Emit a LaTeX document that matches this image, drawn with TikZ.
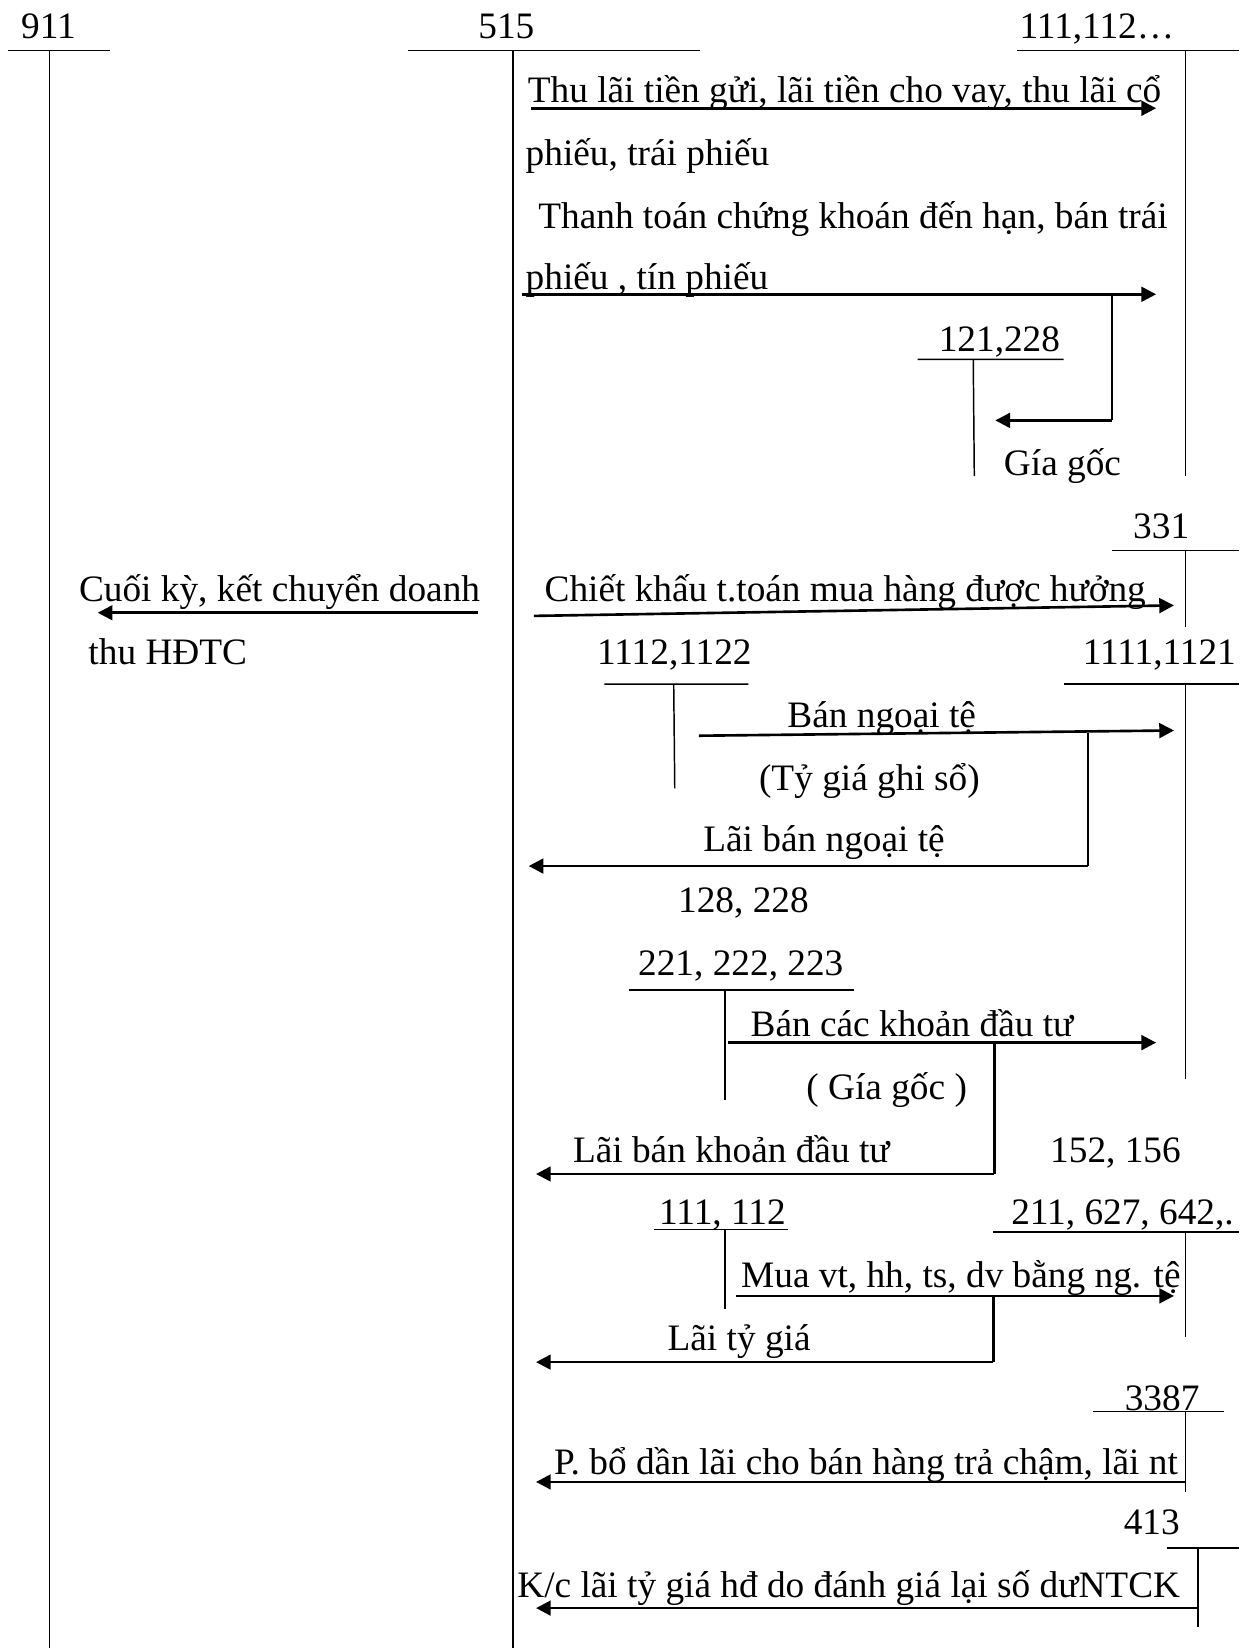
\documentclass[tikz,border=0pt]{standalone}
\usepackage{fontspec}
\setmainfont{Liberation Serif}
\usetikzlibrary{arrows.meta}
\begin{document}
\begin{tikzpicture}[x=1pt,y=-1pt,
  acct/.style={line width=1.4pt},
  flow/.style={line width=2.5pt,-{Triangle[length=14pt,width=14pt]}},
  seg/.style={line width=2.5pt},
  lbl/.style={anchor=base west,inner sep=0pt,font=\fontsize{35.5}{42}\selectfont}]
\useasboundingbox[fill=white] (0,0) rectangle (1179,1568);
% T accounts
\node[lbl] (t911) at (20,37) {911};
\draw[acct] (8,48) -- (105,48) (47,48) -- (47,1568);
\node[lbl] (t515) at (455,37) {515};
\draw[acct] (388,48) -- (666,48) (488,48) -- (488,1568);
\node[lbl] (t111) at (970,37) {111,112…};
\draw[acct] (968,48) -- (1179,48) (1128,48) -- (1128,453);
\node[lbl] (t121) at (893,334) {121,228};
\draw[acct] (873,342) -- (1012,342) (926,342) -- (927,453);
\node[lbl] (t331) at (1078,512) {331};
\draw[acct] (1058,524) -- (1179,524) (1128,524) -- (1128,597);
\node[lbl] (t1112) at (568,632) {1112,1122};
\draw[acct] (575,651) -- (712,651) (641,651) -- (642,750);
\node[lbl] (t1111) at (1030,632) {1111,1121};
\draw[acct] (1012,651) -- (1179,651) (1128,651) -- (1128,1027);
\node[lbl] (t128) at (645,868) {128, 228};
\node[lbl] (t221) at (607,928) {221, 222, 223};
\draw[acct] (598,942) -- (813,942) (690,942) -- (690,1047);
\node[lbl] (t152) at (999,1106) {152, 156};
\node[lbl] (t1112b) at (627,1165) {111, 112};
\draw[acct] (622,1170) -- (750,1170) (690,1170) -- (690,1245);
\node[lbl] (t211) at (962,1165) {211, 627, 642,.};
\draw[acct] (945,1172) -- (1179,1172) (1128,1172) -- (1128,1272);
\node[lbl] (t3387) at (1070,1342) {3387};
\draw[acct] (1040,1343) -- (1165,1343) (1128,1343) -- (1128,1420);
\node[lbl] (t413) at (1069,1460) {413};
\draw[acct] (1110,1473) -- (1179,1473) (1140,1473) -- (1140,1548);
% texts
\node[lbl] (a1) at (502,98) {Thu lãi tiền gửi, lãi tiền cho vay, thu lãi cổ};
\node[lbl] (a1b) at (500,157) {phiếu, trái phiếu};
\node[lbl] (a2) at (512,217) {Thanh toán chứng khoán đến hạn, bán trái};
\node[lbl] (a2b) at (500,275) {phiếu , tín phiếu};
\node[lbl] (g1) at (955,452) {Gía gốc};
\node[lbl] (a3) at (518,572) {Chiết khấu t.toán mua hàng được hưởng};
\node[lbl] (a0) at (75,572) {Cuối kỳ, kết chuyển doanh};
\node[lbl] (a0b) at (84,632) {thu HĐTC};
\node[lbl] (a4) at (749,692) {Bán ngoại tệ};
\node[lbl] (a4b) at (722,752) {(Tỷ giá ghi sổ)};
\node[lbl] (a5) at (669,810) {Lãi bán ngoại tệ};
\node[lbl] (a6) at (714,986) {Bán các khoản đầu tư};
\node[lbl] (a6b) at (767,1046) {( Gía gốc )};
\node[lbl] (a7) at (545,1106) {Lãi bán khoản đầu tư};
\node[lbl] (a8) at (705,1225) {Mua vt, hh, ts, dv bằng ng. tệ};
\node[lbl] (a9) at (635,1285) {Lãi tỷ giá};
\node[lbl] (a10) at (527,1403) {P. bổ dần lãi cho bán hàng trả chậm, lãi nt};
\node[lbl] (a11) at (492,1520) {K/c lãi tỷ giá hđ do đánh giá lại số dưNTCK};
% arrows
\draw[flow] (505,103) -- (1100,103);
\draw[flow] (497,280) -- (1100,280);
\draw[seg] (1058,280) -- (1058,400);
\draw[flow] (1058,400) -- (947,400);
\draw[flow] (508,586) -- (1117,576);
\draw[flow] (455,583) -- (93,583);
\draw[flow] (665,700) -- (1117,695);
\draw[seg] (1035,697) -- (1035,824);
\draw[flow] (1035,824) -- (503,824);
\draw[flow] (693,992) -- (1100,992);
\draw[seg] (946,992) -- (946,1117);
\draw[flow] (946,1117) -- (510,1117);
\draw[flow] (700,1233) -- (1117,1233);
\draw[seg] (945,1233) -- (945,1296);
\draw[flow] (945,1296) -- (510,1296);
\draw[flow] (1128,1410) -- (510,1410);
\draw[flow] (1140,1530) -- (510,1530);
\end{tikzpicture}
\end{document}
